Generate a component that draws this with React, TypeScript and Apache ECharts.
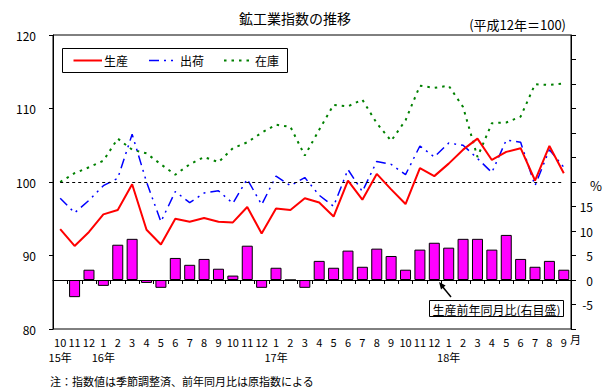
import React, { useEffect, useRef } from 'react';
import * as echarts from 'echarts';

const periods = [
  '2015.10', '2015.11', '2015.12',
  '2016.1', '2016.2', '2016.3', '2016.4', '2016.5', '2016.6', '2016.7', '2016.8', '2016.9', '2016.10', '2016.11', '2016.12',
  '2017.1', '2017.2', '2017.3', '2017.4', '2017.5', '2017.6', '2017.7', '2017.8', '2017.9', '2017.10', '2017.11', '2017.12',
  '2018.1', '2018.2', '2018.3', '2018.4', '2018.5', '2018.6', '2018.7', '2018.8', '2018.9',
];
const yearLabels = [
  '15年', '', '', '16年', '', '', '', '', '', '', '', '', '', '', '',
  '17年', '', '', '', '', '', '', '', '', '', '', '',
  '18年', '', '', '', '', '', '', '', '',
];

// 生産
const production = [
  93.6, 91.3, 93.2, 95.6, 96.2, 99.7, 93.5, 91.5, 95.0, 94.6, 95.1, 94.6,
  94.5, 96.6, 93.0, 96.4, 96.2, 97.8, 97.2, 95.3, 100.2, 97.6, 101.1, 99.0,
  97.0, 101.9, 100.8, 102.5, 104.4, 105.9, 103.0, 104.1, 104.6, 100.2, 104.9, 101.2,
];
// 出荷
const shipments = [
  97.8, 95.8, 97.5, 99.5, 100.5, 106.5, 100.0, 94.6, 98.7, 97.2, 98.5, 98.8,
  97.1, 100.4, 96.9, 100.8, 99.5, 100.6, 98.2, 96.7, 101.7, 98.7, 102.8, 102.4,
  101.0, 104.9, 103.4, 105.3, 105.0, 103.2, 101.3, 105.7, 105.4, 99.5, 104.4, 102.0,
];
// 在庫
const inventory = [
  100.0, 101.2, 102.0, 102.9, 105.9, 104.4, 103.9, 102.4, 101.0, 102.4, 103.4, 102.7,
  104.6, 105.4, 106.7, 107.8, 107.5, 103.6, 107.1, 110.5, 110.3, 111.2, 108.0, 105.6,
  108.4, 113.1, 112.8, 113.1, 110.2, 103.4, 108.0, 108.1, 108.9, 113.3, 113.2, 113.4,
];
// 生産前年同月比 (%)
const productionYoY = [
  null, -3.5, 2.1, -1.2, 7.2, 8.4, -0.6, -1.6, 4.5, 3.1, 4.3, 2.3,
  0.9, 7.0, -1.6, 2.5, 0, -1.6, 3.9, 2.5, 6.0, 2.7, 6.4, 4.9,
  2.1, 6.2, 7.6, 6.6, 8.4, 8.4, 6.2, 9.2, 4.3, 2.7, 3.9, 2.1,
];
const leftTicks = { min: 80, max: 120, interval: 10 };
const rightTicks = { min: -10, max: 50, interval: 5 };
const rightShown = [-5, 0, 5, 10, 15];

const FONT = '"Noto Sans CJK JP", "Noto Sans", sans-serif';

const RED = '#ff0000';
const BLUE = '#0000ff';
const GREEN = '#008000';
const RED_DASH: any = 'solid';
const BLUE_DASH = [10, 5, 2, 5, 2, 5];
const GREEN_DASH = [2.5, 5];

export default function App() {
  const ref = useRef<HTMLDivElement>(null);
  useEffect(() => {
    if (!ref.current) return;
    const chart = echarts.init(ref.current, undefined, { renderer: 'svg' });
    const legendY = 60.5;
    const option: any = {
      animation: false,
      backgroundColor: '#fff',
      textStyle: { fontFamily: FONT, color: '#000' },
      grid: {
        left: 53, right: 38, top: 35, bottom: 63,
        show: true, borderColor: '#000', borderWidth: 1, backgroundColor: 'transparent',
      },
      xAxis: {
        type: 'category',
        data: periods,
        boundaryGap: true,
        axisLine: { show: true, lineStyle: { color: '#000', width: 1 } },
        axisTick: { show: true, interval: 0, length: 4, lineStyle: { color: '#000' } },
        axisLabel: {
          interval: 0,
          margin: 5,
          fontSize: 11,
          lineHeight: 15,
          color: '#000',
          fontFamily: FONT,
          formatter: (v: string, i: number) => {
            const m = String(Number(v.split('.')[1]));
            const y = yearLabels[i] || ' ';
            return m + '\n' + y;
          },
        },
        splitLine: { show: false },
      },
      yAxis: [
        {
          type: 'value',
          position: 'left',
          ...leftTicks,
          axisLine: { show: true, lineStyle: { color: '#000' } },
          axisTick: { show: true, length: 4, lineStyle: { color: '#000' } },
          axisLabel: { margin: 17, fontSize: 12, color: '#000', fontFamily: FONT },
          splitLine: { show: false },
        },
        {
          type: 'value',
          position: 'right',
          ...rightTicks,
          axisLine: { show: true, lineStyle: { color: '#000' } },
          axisTick: { show: true, length: 5, lineStyle: { color: '#000' } },
          axisLabel: {
            margin: 22, align: 'right', fontSize: 12, color: '#000', fontFamily: FONT,
            formatter: (v: number) => (rightShown.indexOf(v) >= 0 ? String(v) : ''),
          },
          splitLine: { show: false },
        },
      ],
      series: [
        {
          name: '前年同月比',
          type: 'bar',
          yAxisIndex: 1,
          data: productionYoY,
          barWidth: 11,
          itemStyle: { color: '#ff00ff', borderColor: '#000', borderWidth: 1 },
          z: 2,
          markLine: {
            silent: true,
            symbol: ['none', 'none'],
            label: { show: false },
            lineStyle: { color: '#000', width: 1, type: 'solid' },
            data: [{ yAxis: 0 }],
          },
        },
        {
          name: '在庫',
          type: 'line',
          yAxisIndex: 0,
          data: inventory,
          symbol: 'none',
          lineStyle: { color: GREEN, width: 2, type: GREEN_DASH },
          itemStyle: { color: GREEN },
          z: 3,
        },
        {
          name: '出荷',
          type: 'line',
          yAxisIndex: 0,
          data: shipments,
          symbol: 'none',
          lineStyle: { color: BLUE, width: 1.5, type: BLUE_DASH },
          itemStyle: { color: BLUE },
          z: 4,
        },
        {
          name: '生産',
          type: 'line',
          yAxisIndex: 0,
          data: production,
          symbol: 'none',
          lineStyle: { color: RED, width: 2, type: RED_DASH },
          itemStyle: { color: RED },
          z: 5,
          markLine: {
            silent: true,
            symbol: ['none', 'none'],
            label: { show: false },
            lineStyle: { color: '#000', width: 1, type: [3, 3] },
            data: [[{ coord: [0, 100] }, { coord: [periods.length - 1, 100] }]],
          },
        },
      ],
      graphic: [
        { type: 'text', x: 295, y: 18, style: { text: '鉱工業指数の推移', font: `14px ${FONT}`, fill: '#000', align: 'center', verticalAlign: 'middle' } },
        { type: 'text', x: 566, y: 24, style: { text: '(平成12年＝100)', font: `13px ${FONT}`, fill: '#000', align: 'right', verticalAlign: 'middle' } },
        { type: 'text', x: 596, y: 185, style: { text: '%', font: `13px ${FONT}`, fill: '#000', align: 'center', verticalAlign: 'middle' } },
        { type: 'text', x: 570, y: 339, style: { text: '月', font: `11px ${FONT}`, fill: '#000', align: 'left', verticalAlign: 'middle' } },
        { type: 'text', x: 50, y: 381, style: { text: '注：指数値は季節調整済、前年同月比は原指数による', font: `11px ${FONT}`, fill: '#000', align: 'left', verticalAlign: 'middle' } },
        // legend
        { type: 'rect', shape: { x: 62.5, y: 48.5, width: 225, height: 24 }, style: { fill: '#fff', stroke: '#000', lineWidth: 1 }, z: 10 },
        { type: 'line', shape: { x1: 73.5, y1: legendY, x2: 102, y2: legendY }, style: { stroke: RED, lineWidth: 2 }, z: 11 },
        { type: 'text', x: 104, y: legendY, style: { text: '生産', font: `12px ${FONT}`, fill: '#000', align: 'left', verticalAlign: 'middle' }, z: 11 },
        { type: 'line', shape: { x1: 149, y1: legendY, x2: 178, y2: legendY }, style: { stroke: BLUE, lineWidth: 1.5, lineDash: BLUE_DASH }, z: 11 },
        { type: 'text', x: 180, y: legendY, style: { text: '出荷', font: `12px ${FONT}`, fill: '#000', align: 'left', verticalAlign: 'middle' }, z: 11 },
        { type: 'line', shape: { x1: 224, y1: legendY, x2: 254, y2: legendY }, style: { stroke: GREEN, lineWidth: 2, lineDash: GREEN_DASH }, z: 11 },
        { type: 'text', x: 255, y: legendY, style: { text: '在庫', font: `12px ${FONT}`, fill: '#000', align: 'left', verticalAlign: 'middle' }, z: 11 },
        // annotation
        { type: 'rect', shape: { x: 429.5, y: 300.5, width: 134, height: 16 }, style: { fill: '#fff', stroke: '#000', lineWidth: 1 }, z: 10 },
        { type: 'text', x: 496.5, y: 309, style: { text: '生産前年同月比(右目盛)', font: `12px ${FONT}`, fill: '#000', align: 'center', verticalAlign: 'middle' }, z: 11 },
        { type: 'line', shape: { x1: 451, y1: 297, x2: 442, y2: 286 }, style: { stroke: '#000', lineWidth: 1.5 }, z: 10 },
        { type: 'polygon', shape: { points: [[439, 282], [445.6, 285.6], [441, 289.4]] }, style: { fill: '#000' }, z: 10 },
      ],
    };
    chart.setOption(option);
    return () => chart.dispose();
  }, []);
  return <div ref={ref} style={{ position: 'fixed', left: 0, top: 0, width: 609, height: 392 }} />;
}
